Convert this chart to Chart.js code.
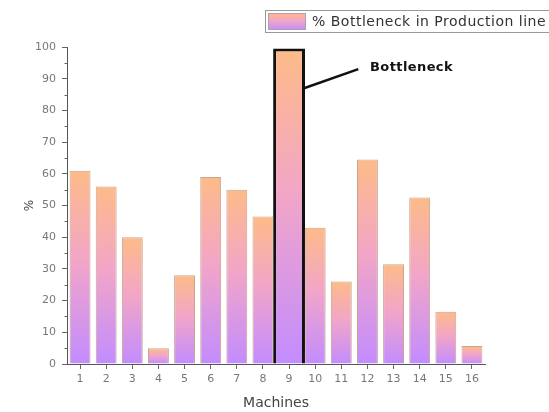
<!DOCTYPE html>
<html><head><meta charset="utf-8">
<script src="https://cdn.jsdelivr.net/npm/chart.js@4/dist/chart.umd.min.js"></script>
<style>html,body{margin:0;padding:0;background:#fff}#wrap{width:549px;height:412px}</style>
</head><body><div id="wrap"><canvas id="c" width="549" height="412"></canvas></div>
<script>
const categories = ['1','2','3','4','5','6','7','8','9','10','11','12','13','14','15','16'];
const bottleneckPct = [61, 56, 40, 5, 28, 59, 55, 46.5, 99.5, 43, 26, 64.5, 31.5, 52.5, 16.5, 5.7];
const yTickValues = [0,10,20,30,40,50,60,70,80,90,100];
const bottleneckIndex = 8;
const seriesLabel = '% Bottleneck in Production line';
const annotationText = 'Bottleneck';
const xTitle = 'Machines';
const yTitle = '%';

const normalData = bottleneckPct.map((v,i)=> i===bottleneckIndex ? null : v);
const highlightData = bottleneckPct.map((v,i)=> i===bottleneckIndex ? v : null);

function addStops(g){
  g.addColorStop(0,'#fdbb88');
  g.addColorStop(0.45,'#f3a6c6');
  g.addColorStop(1,'#c28cff');
  return g;
}
function barGradient(ctx){
  const chart = ctx.chart, area = chart.chartArea;
  const v = ctx.raw;
  if(!area || v == null || !chart.scales.y) return '#f0a8c8';
  const ys = chart.scales.y;
  const top = ys.getPixelForValue(v), bot = ys.getPixelForValue(0);
  if(!isFinite(top) || !isFinite(bot) || top===bot) return '#f0a8c8';
  return addStops(chart.ctx.createLinearGradient(0, top, 0, bot));
}

const FONT = 'DejaVu Sans';

const extras = {
  id:'extras',
  afterDraw(chart){
    const c = chart.ctx, xs = chart.scales.x, ys = chart.scales.y;
    c.save();
    // minor ticks on y axis
    c.strokeStyle = '#666'; c.lineWidth = 1;
    const ax = Math.round(xs.left) + 0.5;
    for(let i=0;i<yTickValues.length-1;i++){
      const v = (yTickValues[i]+yTickValues[i+1])/2;
      const py = Math.round(ys.getPixelForValue(v)) + 0.5;
      c.beginPath(); c.moveTo(ax-3, py); c.lineTo(ax, py); c.stroke();
    }
    // annotation
    const meta = chart.getDatasetMeta(1);
    const el = meta.data[bottleneckIndex];
    const x0 = el.x + el.width/2 - 1, y0 = ys.getPixelForValue(87);
    const x1 = xs.getPixelForValue(bottleneckIndex + 2.65), y1 = ys.getPixelForValue(93);
    c.strokeStyle = '#111'; c.lineWidth = 2.5;
    c.beginPath(); c.moveTo(x0,y0); c.lineTo(x1,y1); c.stroke();
    c.fillStyle = '#111';
    c.font = 'bold 13px "' + FONT + '"';
    c.textBaseline = 'middle'; c.textAlign = 'left';
    c.letterSpacing = '0.4px';
    c.fillText(annotationText, xs.getPixelForValue(bottleneckIndex + 3.1), ys.getPixelForValue(93.5));
    // legend box
    c.letterSpacing = '0px';
    c.strokeStyle = '#999'; c.lineWidth = 1;
    c.strokeRect(265.5, 10.5, 300, 22);
    const g = addStops(c.createLinearGradient(0, 13, 0, 30));
    c.fillStyle = g; c.fillRect(268, 13, 38, 17);
    c.strokeStyle = '#b0a0b0'; c.strokeRect(268.5, 13.5, 37, 16);
    c.fillStyle = '#333';
    c.font = '14px "' + FONT + '"';
    c.letterSpacing = '0.5px';
    c.fillText(seriesLabel, 312, 22);
    c.restore();
  }
};

new Chart(document.getElementById('c'), {
  type:'bar',
  data:{
    labels: categories,
    datasets:[
      { label: seriesLabel, data: normalData, grouped:false,
        barPercentage:0.8, categoryPercentage:1,
        backgroundColor: barGradient, borderColor:'#c9a48e', borderWidth:1 },
      { label: seriesLabel, data: highlightData, grouped:false,
        barPercentage:1.22, categoryPercentage:1,
        backgroundColor: barGradient, borderColor:'#111', borderWidth:3 }
    ]
  },
  options:{
    responsive:false, animation:false, devicePixelRatio:1,
    layout:{ padding:{ left:0, right:64, top:47, bottom:0 } },
    plugins:{ legend:{display:false}, tooltip:{enabled:false} },
    scales:{
      x:{
        type:'category', offset:true,
        grid:{ display:true, drawOnChartArea:false, drawTicks:true, tickLength:5, color:'#666', offset:false },
        border:{ display:true, color:'#555', width:1 },
        ticks:{ color:'#777', font:{family:FONT, size:11}, padding:4, maxRotation:0, autoSkip:false },
        title:{ display:true, text:xTitle, color:'#444', font:{family:FONT, size:14}, padding:{top:0,bottom:0} },
        afterFit(s){ s.height = 48; }
      },
      y:{
        min:0, max:100,
        grid:{ display:true, drawOnChartArea:false, drawTicks:true, tickLength:5, color:'#666' },
        border:{ display:true, color:'#555', width:1 },
        ticks:{ stepSize:10, color:'#777', font:{family:FONT, size:11}, padding:6,
          callback:(v)=> yTickValues.includes(v) ? String(v) : '' },
        title:{ display:true, text:yTitle, color:'#444', font:{family:FONT, size:12}, padding:{top:23,bottom:0} },
        afterFit(s){ s.width = 67; }
      }
    }
  },
  plugins:[extras]
});
</script>
</body></html>
